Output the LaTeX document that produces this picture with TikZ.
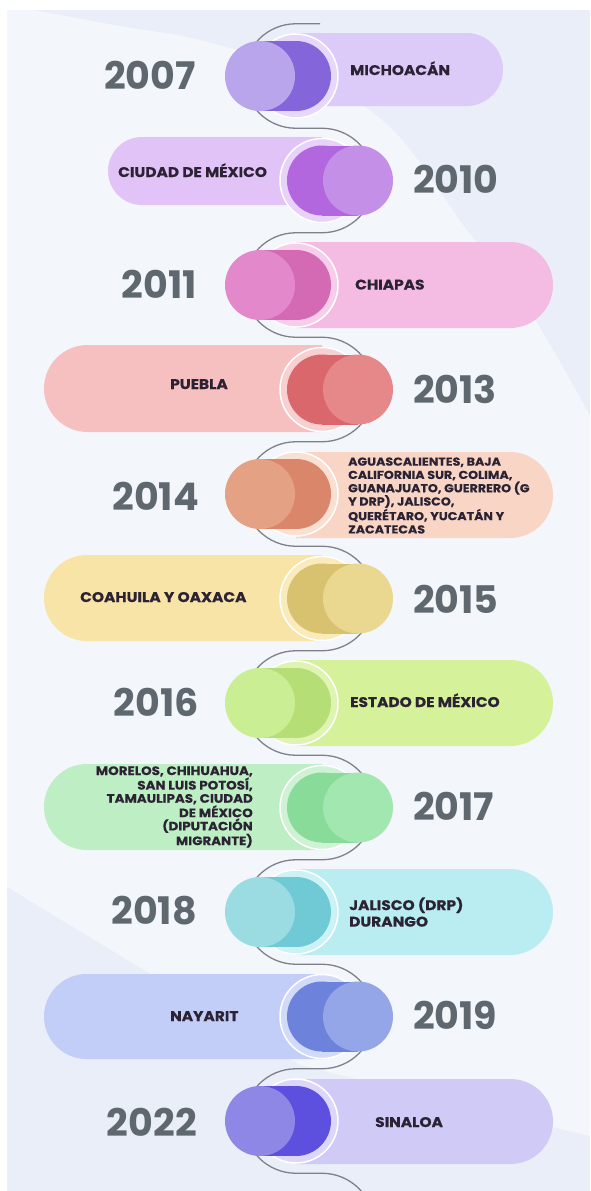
\documentclass[tikz,border=0pt]{standalone}
\usepackage{fontspec}
\setmainfont{Poppins}
\newfontfamily\lblfont{Poppins}[FakeStretch=1.1, BoldFeatures={FakeBold=0.4}]
\definecolor{bgbase}{HTML}{F3F6FB}
\definecolor{bgdark}{HTML}{E9EEF9}
\definecolor{wavec}{HTML}{7E8288}
\definecolor{yearc}{HTML}{5E686E}
\definecolor{lblc}{HTML}{2B2233}
\definecolor{pill1}{HTML}{DCCBF8}\definecolor{dark1}{HTML}{8465DA}\definecolor{light1}{HTML}{B9A5EC}
\definecolor{pill2}{HTML}{E2C3F8}\definecolor{dark2}{HTML}{B267DE}\definecolor{light2}{HTML}{C48FE6}
\definecolor{pill3}{HTML}{F4BCE3}\definecolor{dark3}{HTML}{D56AB4}\definecolor{light3}{HTML}{E389CB}
\definecolor{pill4}{HTML}{F6C0C1}\definecolor{dark4}{HTML}{D9676C}\definecolor{light4}{HTML}{E6878A}
\definecolor{pill5}{HTML}{F8D5C5}\definecolor{dark5}{HTML}{D9866A}\definecolor{light5}{HTML}{E4A184}
\definecolor{pill6}{HTML}{F7E4A6}\definecolor{dark6}{HTML}{D9C26F}\definecolor{light6}{HTML}{EAD790}
\definecolor{pill7}{HTML}{D5F199}\definecolor{dark7}{HTML}{B5DE76}\definecolor{light7}{HTML}{CAEE94}
\definecolor{pill8}{HTML}{BEEEC4}\definecolor{dark8}{HTML}{88DB99}\definecolor{light8}{HTML}{A3E7B0}
\definecolor{pill9}{HTML}{B9EDF2}\definecolor{dark9}{HTML}{6FCAD5}\definecolor{light9}{HTML}{9BDCE3}
\definecolor{pill10}{HTML}{C3CEF8}\definecolor{dark10}{HTML}{6C82DB}\definecolor{light10}{HTML}{94A5E8}
\definecolor{pill11}{HTML}{D0CAF7}\definecolor{dark11}{HTML}{5D50DF}\definecolor{light11}{HTML}{8F87E6}
% #1 yc, #2 pill top, #3 pill bottom, #4 pill right end, #5 index
\newcommand\tlR[5]{%
  \pgfmathsetmacro\rr{(#3-#2)/2}%
  \fill[pill#5, rounded corners=\rr pt] (296,#2) -- (#4,#2) -- (#4,#3) -- (296,#3);
  \node[ring, fill=pill#5!75!white] (ring#5) at (296,#1) {};
  \fill[dark#5] (260,#1-35) rectangle (296,#1+35);
  \node[disc, fill=dark#5] (in#5) at (296,#1) {};
  \node[disc, fill=light#5] (out#5) at (260,#1) {};
}
% #1 yc, #2 pill top, #3 pill bottom, #4 pill left end, #5 index
\newcommand\tlL[5]{%
  \pgfmathsetmacro\rr{(#3-#2)/2}%
  \fill[pill#5, rounded corners=\rr pt] (322,#2) -- (#4,#2) -- (#4,#3) -- (322,#3);
  \node[ring, fill=pill#5!75!white] (ring#5) at (322,#1) {};
  \fill[dark#5] (322,#1-35) rectangle (358,#1+35);
  \node[disc, fill=dark#5] (in#5) at (322,#1) {};
  \node[disc, fill=light#5] (out#5) at (358,#1) {};
}
\begin{document}
\begin{tikzpicture}[x=1pt,y=-1pt,
  disc/.style={circle, minimum size=70pt, inner sep=0pt, outer sep=0pt},
  ring/.style={circle, minimum size=84pt, inner sep=0pt, draw=white, line width=1.5pt},
  wave/.style={draw=wavec, line width=1.3pt},
  year/.style={font=\fontsize{38}{38}\selectfont\bfseries, text=yearc, inner sep=0pt},
  lbl/.style={font=\lblfont\fontsize{14}{16}\selectfont\bfseries, text=lblc, inner sep=0pt},
  lbls/.style={font=\lblfont\fontsize{11.5}{13.3}\selectfont\bfseries, text=lblc, inner sep=0pt},
  lblm/.style={font=\lblfont\fontsize{12.2}{13.2}\selectfont\bfseries, text=lblc, inner sep=0pt},
  lblt/.style={font=\lblfont\fontsize{14}{16.5}\selectfont\bfseries, text=lblc, inner sep=0pt}]
\useasboundingbox (0,0) rectangle (590,1191);
\fill[white] (0,0) rectangle (590,1191);
\begin{scope}
  \clip (7,10) rectangle (590,1191);
  \fill[bgbase] (7,10) rectangle (590,1191);
  \fill[bgdark] plot[smooth, tension=0.6] coordinates {(33,10) (120,26) (200,40) (300,72) (390,127) (467,230) (523,300) (590,415)} -- (590,10) -- cycle;
  \fill[bgdark] (7,887) -- (300,1065) -- (480,1110) -- (590,1136) -- (590,1191) -- (7,1191) -- cycle;
  \draw[wave] (320,23.75) -- (296,23.75)
    arc[start angle=90,end angle=270,radius=52.25pt] -- ++(26,0)
    arc[start angle=90,end angle=-90,radius=52.25pt] -- ++(-26,0)
    arc[start angle=90,end angle=270,radius=52.25pt] -- ++(26,0)
    arc[start angle=90,end angle=-90,radius=52.25pt] -- ++(-26,0)
    arc[start angle=90,end angle=270,radius=52.25pt] -- ++(26,0)
    arc[start angle=90,end angle=-90,radius=52.25pt] -- ++(-26,0)
    arc[start angle=90,end angle=270,radius=52.25pt] -- ++(26,0)
    arc[start angle=90,end angle=-90,radius=52.25pt] -- ++(-26,0)
    arc[start angle=90,end angle=270,radius=52.25pt] -- ++(26,0)
    arc[start angle=90,end angle=-90,radius=52.25pt] -- ++(-26,0)
    arc[start angle=90,end angle=270,radius=52.25pt] -- ++(26,0)
    arc[start angle=90,end angle=-30,radius=52.25pt];
\end{scope}
% rows
\tlR{76}{33}{106}{503}{1}
\tlL{180.5}{137}{205}{108}{2}
\tlR{285}{242}{328}{553}{3}
\tlL{389.5}{345}{432}{44}{4}
\tlR{494}{452}{538}{553}{5}
\tlL{598.5}{555}{641}{44}{6}
\tlR{703}{660}{746}{553}{7}
\tlL{807.5}{764}{850}{44}{8}
\tlR{912}{869}{955}{553}{9}
\tlL{1016.5}{974}{1059}{44}{10}
\tlR{1121}{1079}{1164}{553}{11}
% years
\node[year, anchor=base east] (y2007) at (196,89.5) {2007};
\node[year, anchor=base west] (y2010) at (413,193.5) {2010};
\node[year, anchor=base east] (y2011) at (197,298.5) {2011};
\node[year, anchor=base west] (y2013) at (413,403) {2013};
\node[year, anchor=base east] (y2014) at (199,510.5) {2014};
\node[year, anchor=base west] (y2015) at (413,613) {2015};
\node[year, anchor=base east] (y2016) at (199,716.5) {2016};
\node[year, anchor=base west] (y2017) at (413,820.5) {2017};
\node[year, anchor=base east] (y2018) at (197,924) {2018};
\node[year, anchor=base west] (y2019) at (413,1029) {2019};
\node[year, anchor=base east] (y2022) at (197,1136.5) {2022};
% labels
\node[lbl, anchor=base west] (l1) at (350,75) {MICHOACÁN};
\node[lbl, anchor=base west] (l2) at (118,177) {CIUDAD DE MÉXICO};
\node[lbl, anchor=base west] (l3) at (355,289.5) {CHIAPAS};
\node[lbl, anchor=base west] (l4) at (170,389) {PUEBLA};
\node[lbls, anchor=west, align=left] (l5) at (348,495.5) {AGUASCALIENTES, BAJA\\CALIFORNIA SUR, COLIMA,\\GUANAJUATO, GUERRERO (G\\Y DRP), JALISCO,\\QUERÉTARO, YUCATÁN Y\\ZACATECAS};
\node[lbl, anchor=base west] (l6) at (80,602) {COAHUILA Y OAXACA};
\node[lbl, anchor=base west] (l7) at (350,707) {ESTADO DE MÉXICO};
\node[lblm, anchor=east, align=right] (l8) at (253,807) {MORELOS, CHIHUAHUA,\\SAN LUIS POTOSÍ,\\TAMAULIPAS, CIUDAD\\DE MÉXICO\\(DIPUTACIÓN\\MIGRANTE)};
\node[lblt, anchor=west, align=left] (l9) at (349,912) {JALISCO (DRP)\\DURANGO};
\node[lbl, anchor=base west] (l10) at (170,1021) {NAYARIT};
\node[lbl, anchor=base west] (l11) at (375,1127) {SINALOA};
\end{tikzpicture}
\end{document}
